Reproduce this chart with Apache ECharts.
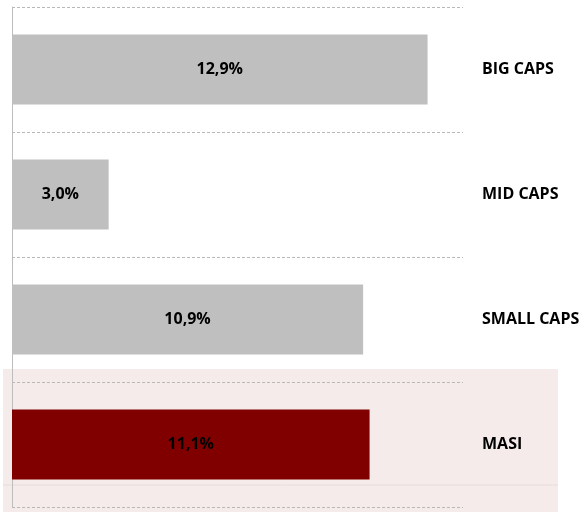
<!DOCTYPE html>
<html>
<head>
<meta charset="UTF-8">
<title>Caps</title>
<script src="https://cdn.jsdelivr.net/npm/echarts@6/dist/echarts.min.js"></script>
<style>
  html, body { margin: 0; padding: 0; background: #fff; }
  #main { width: 583px; height: 512px; }
</style>
</head>
<body>
<div id="main"></div>
<script>
var categories = ['BIG CAPS', 'MID CAPS', 'SMALL CAPS', 'MASI'];
var values = [12.9, 3.0, 10.9, 11.1];
var barColors = ['#bfbfbf', '#bfbfbf', '#bfbfbf', '#800000'];

var chart = echarts.init(document.getElementById('main'));

var option = {
  animation: false,
  textStyle: { fontFamily: 'Open Sans' },
  // light band behind the MASI row
  graphic: [
    { type: 'rect', z: -10, shape: { x: 3, y: 369, width: 555, height: 143 }, style: { fill: '#f5ebea' } },
    { type: 'line', z: -9, shape: { x1: 3, y1: 485, x2: 558, y2: 485 }, style: { stroke: '#e8dcdb', lineWidth: 1 } }
  ],
  grid: { left: 12, right: 120, top: 7, bottom: 5 },
  xAxis: {
    type: 'value', min: 0, max: 14,
    show: false
  },
  yAxis: [
    {
      type: 'category', data: categories, inverse: true, position: 'right',
      axisLine: { show: false }, axisTick: { show: false },
      axisLabel: { margin: 19, color: '#000', fontWeight: 'bold', fontSize: 16, align: 'left' },
      splitLine: { show: true, lineStyle: { color: '#b8b8b8', type: [3, 2], width: 1 } }
    },
    {
      type: 'category', data: categories, inverse: true, position: 'left',
      axisLine: { show: true, lineStyle: { color: '#bdbdbd', width: 1 } },
      axisTick: { show: false }, axisLabel: { show: false }, splitLine: { show: false }
    }
  ],
  series: [{
    type: 'bar',
    yAxisIndex: 0,
    barWidth: '56%',
    data: values.map(function (v, i) { return { value: v, itemStyle: { color: barColors[i] } }; }),
    label: {
      show: true, position: 'inside', color: '#000', fontWeight: 'bold', fontSize: 16,
      formatter: function (p) { return p.value.toFixed(1).replace('.', ',') + '%'; }
    }
  }]
};

chart.setOption(option);
</script>
</body>
</html>
